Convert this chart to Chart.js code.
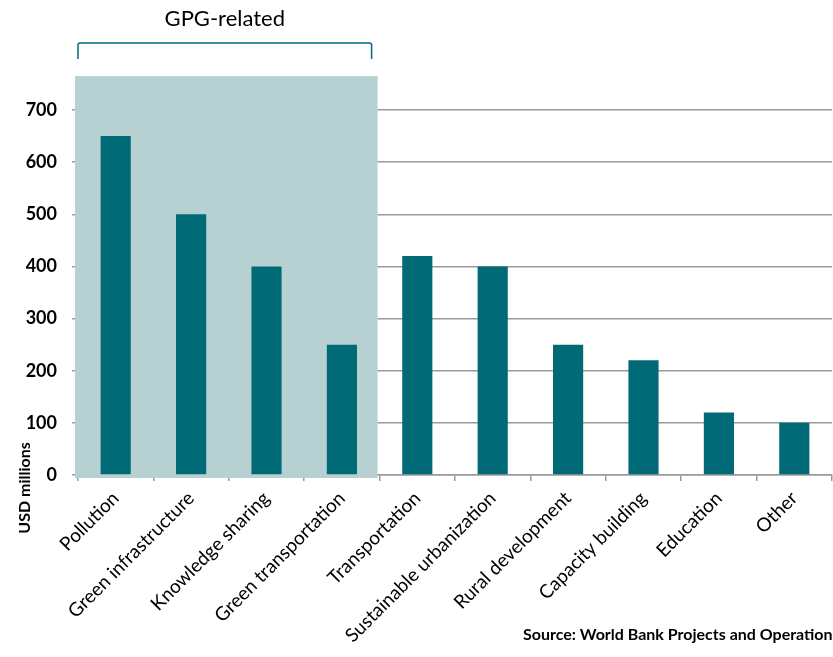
<!DOCTYPE html>
<html>
<head>
<meta charset="utf-8">
<script src="https://cdn.jsdelivr.net/npm/chart.js@4.4.1/dist/chart.umd.min.js"></script>
<style>
  html, body { margin: 0; padding: 0; background: #fff; }
  #wrap { width: 833px; height: 657px; position: relative; }
</style>
</head>
<body>
<div id="wrap"><canvas id="gpgChart"></canvas></div>
<script>
const categories = [
  "Pollution", "Green infrastructure", "Knowledge sharing", "Green transportation",
  "Transportation", "Sustainable urbanization", "Rural development",
  "Capacity building", "Education", "Other"
];
const fundingUsd = [650, 500, 400, 250, 420, 400, 250, 220, 120, 100];
const yTicks = [0, 100, 200, 300, 400, 500, 600, 700];
const gpgCount = 4;

const FONT = "Lato, 'Liberation Sans', sans-serif";
const TEAL = "#006b77";
const GRID = "#9a9a9a";

// shaded block + bracket + labels around the GPG-related group
const gpgBand = {
  id: "gpgBand",
  beforeDatasetsDraw(chart) {
    const { ctx } = chart;
    const x = chart.scales.x, y = chart.scales.y;
    const half = (x.getPixelForValue(1) - x.getPixelForValue(0)) / 2;
    const right = x.getPixelForValue(gpgCount - 1) + half - 2;
    const top = y.getPixelForValue(765);
    ctx.save();
    ctx.fillStyle = "#b7d1d3";
    ctx.fillRect(x.left - 3, top, right - x.left + 3, y.bottom + 3 - top);
    ctx.restore();
  },
  afterDraw(chart) {
    const { ctx } = chart;
    const x = chart.scales.x, y = chart.scales.y;
    const half = (x.getPixelForValue(1) - x.getPixelForValue(0)) / 2;
    const left = x.left;
    const right = x.getPixelForValue(gpgCount - 1) + half - 8;
    const by = y.getPixelForValue(765) - 33;
    ctx.save();
    ctx.strokeStyle = TEAL;
    ctx.lineWidth = 1.5;
    ctx.lineJoin = "round";
    ctx.beginPath();
    ctx.moveTo(left, by + 16);
    ctx.lineTo(left, by + 2);
    ctx.quadraticCurveTo(left, by, left + 2, by);
    ctx.lineTo(right - 2, by);
    ctx.quadraticCurveTo(right, by, right, by + 2);
    ctx.lineTo(right, by + 16);
    ctx.stroke();

    ctx.fillStyle = "#000";
    ctx.textAlign = "center";
    ctx.textBaseline = "middle";
    ctx.font = "22px " + FONT;
    ctx.fillText("GPG-related", (left + right) / 2, by - 24);

    // axis title sits low, next to the rotated labels
    ctx.translate(25, y.bottom + 13);
    ctx.rotate(-Math.PI / 2);
    ctx.font = "bold 16px " + FONT;
    ctx.fillText("USD millions", 0, 0);
    ctx.restore();

    ctx.save();
    ctx.fillStyle = "#000";
    ctx.font = "bold 16px " + FONT;
    ctx.textAlign = "left";
    ctx.textBaseline = "middle";
    ctx.fillText("Source: World Bank Projects and Operations", 523, 635);
    ctx.restore();
  }
};

new Chart(document.getElementById("gpgChart"), {
  type: "bar",
  data: {
    labels: categories,
    datasets: [{
      data: fundingUsd,
      backgroundColor: TEAL,
      barPercentage: 0.4,
      categoryPercentage: 1
    }]
  },
  options: {
    responsive: true,
    maintainAspectRatio: false,
    animation: false,
    layout: { padding: { top: 110, right: 1, left: 0, bottom: 0 } },
    plugins: { legend: { display: false }, tooltip: { enabled: false } },
    scales: {
      x: {
        offset: true,
        grid: { offset: true, drawOnChartArea: false, drawTicks: true, tickLength: 6, color: GRID, lineWidth: 1.5 },
        border: { display: true, color: GRID, width: 1.5 },
        ticks: {
          color: "#000",
          font: { family: FONT, size: 19 },
          minRotation: 45,
          maxRotation: 45,
          padding: 6,
          autoSkip: false
        },
        afterFit(scale) { scale.height = 182; }
      },
      y: {
        min: 0,
        max: 700,
        afterBuildTicks(scale) { scale.ticks = yTicks.map(v => ({ value: v })); },
        grid: { color: GRID, lineWidth: 1.5, tickLength: 6 },
        border: { display: true, color: GRID, width: 1.5 },
        ticks: {
          color: "#000",
          font: { family: FONT, size: 18, weight: "bold" },
          padding: 15
        },
        afterFit(scale) { scale.width = 78; }
      }
    }
  },
  plugins: [gpgBand]
});
</script>
</body>
</html>
